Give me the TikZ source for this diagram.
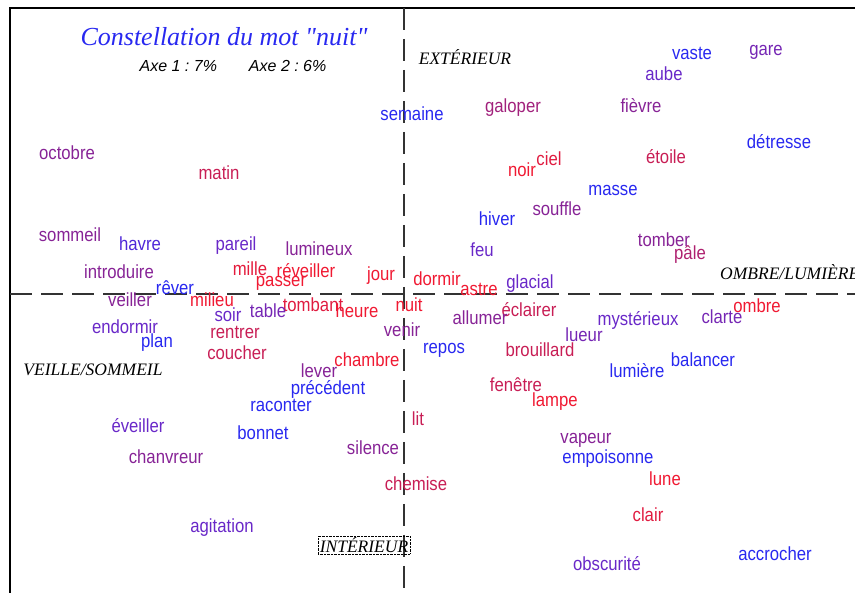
\documentclass[tikz,border=0pt]{standalone}
\usepackage{fontspec}
\usepackage{tikz}
\setmainfont{Liberation Sans}
\newfontfamily\motfont[FakeStretch=0.88]{Liberation Sans}
\newfontfamily\axefont{Liberation Serif}
\usetikzlibrary{positioning}
\definecolor{wblue}{RGB}{40,40,240}
\definecolor{wviolet}{RGB}{105,40,200}
\definecolor{wpurple}{RGB}{135,35,150}
\definecolor{wcrimson}{RGB}{200,30,85}
\definecolor{wred}{RGB}{240,25,50}
\tikzset{mot/.style={inner sep=0pt,font=\motfont\fontsize{19}{19}\selectfont},
  axelabel/.style={inner sep=1pt,font=\axefont\itshape\fontsize{17.5}{18}\selectfont},
  axeline/.style={draw=black!80,line width=1.3pt,dash pattern=on 22pt off 9pt}}

\begin{document}
\begin{tikzpicture}[x=1pt,y=-1pt]
    \useasboundingbox (0,0) rectangle (855,593);
    % frame
    \draw[line width=1.5pt] (10,593) -- (10,8) -- (855,8);
    % axes
    \coordinate (axtop) at (404,8);
    \coordinate (axbot) at (404,593);
    \coordinate (axleft) at (10,294);
    \coordinate (axright) at (855,294);
    \draw[axeline] (axtop) -- (axbot);
    \draw[axeline] (axleft) -- (axright);

    \node[font=\axefont\itshape\fontsize{26}{26}\selectfont,text=wblue,inner sep=0pt] (titre) at (224,37) {Constellation du mot "nuit"};
    \node[font=\itshape\fontsize{16}{16}\selectfont,inner sep=0pt] (axes) at (233,66) {Axe 1 :\ 7\%\qquad Axe 2 :\ 6\%};

    \node[axelabel] (exterieur) at (465,57) {EXTÉRIEUR};
    \node[axelabel] (veille) at (93,370) {VEILLE/SOMMEIL};
    \node[axelabel,anchor=west] (ombre) at (719,272) {OMBRE/LUMIÈRE};
    \node[axelabel,draw,densely dotted,thin,inner sep=1.5pt] (interieur) at (364,545) {INTÉRIEUR};

    % words
    \foreach \nm/\txt/\x/\y/\col in {
      semaine/semaine/412/114/wblue, galoper/galoper/513/108/wpurple!60!wcrimson,
      vaste/vaste/692/53/wblue, gare/gare/766/52/wviolet!60!wpurple,
      aube/aube/664/74/wviolet, fievre/fièvre/641/106/wpurple,
      detresse/détresse/779/142/wblue, octobre/octobre/67/153/wpurple,
      matin/matin/219/173/wcrimson, noir/noir/522/170/wred,
      ciel/ciel/549/159/wcrimson!40!wred, etoile/étoile/666/157/wcrimson,
      masse/masse/613/190/wblue, souffle/souffle/557/209/wpurple,
      hiver/hiver/497/219/wblue, sommeil/sommeil/70/235/wpurple,
      havre/havre/140/244/wviolet!60!wblue, pareil/pareil/236/246/wviolet,
      lumineux/lumineux/319/249/wpurple, feu/feu/482/250/wviolet,
      tomber/tomber/664/240/wpurple, pale/pâle/690/255/wpurple!40!wcrimson,
      mille/mille/250/269/wred!70!wcrimson, reveiller/réveiller/306/271/wred,
      introduire/introduire/119/272/wpurple, jour/jour/381/276/wred,
      dormir/dormir/437/279/wred, passer/passer/281/283/wred,
      astre/astre/479/289/wred, glacial/glacial/530/284/wviolet,
      rever/rêver/175/288/wblue, veiller/veiller/130/300/wpurple,
      milieu/milieu/212/300/wred, tombant/tombant/313/305/wred!60!wcrimson,
      heure/heure/357/311/wred, nuit/nuit/409/305/wred,
      soir/soir/228/315/wviolet, table/table/268/311/wviolet!60!wpurple,
      eclairer/éclairer/529/310/wcrimson, allumer/allumer/480/318/wpurple,
      ombrew/ombre/757/306/wred, clarte/clarte/722/317/wviolet!60!wpurple,
      mysterieux/mystérieux/638/320/wviolet, lueur/lueur/584/335/wviolet!60!wpurple,
      endormir/endormir/125/327/wviolet, rentrer/rentrer/235/332/wcrimson,
      venir/venir/402/330/wpurple, plan/plan/157/343/wblue,
      repos/repos/444/350/wblue, brouillard/brouillard/540/350/wcrimson,
      coucher/coucher/237/353/wcrimson, balancer/balancer/703/360/wblue,
      chambre/chambre/367/360/wred, lumiere/lumière/637/371/wblue,
      lever/lever/319/371/wpurple, precedent/précédent/328/389/wblue,
      fenetre/fenêtre/516/385/wcrimson, lampe/lampe/555/402/wred,
      raconter/raconter/281/405/wblue, lit/lit/418/419/wcrimson,
      eveiller/éveiller/138/426/wviolet, bonnet/bonnet/263/433/wblue,
      vapeur/vapeur/586/440/wpurple, silence/silence/373/448/wpurple,
      chanvreur/chanvreur/166/457/wpurple, empoisonne/empoisonne/608/459/wblue,
      lune/lune/665/479/wred, chemise/chemise/416/484/wcrimson,
      clair/clair/648/515/wred!60!wcrimson, agitation/agitation/222/528/wviolet,
      accrocher/accrocher/775/554/wblue, obscurite/obscurité/607/564/wviolet}
      \node[mot,text=\col] (\nm) at (\x,\y) {\txt};
  \end{tikzpicture}
\end{document}
